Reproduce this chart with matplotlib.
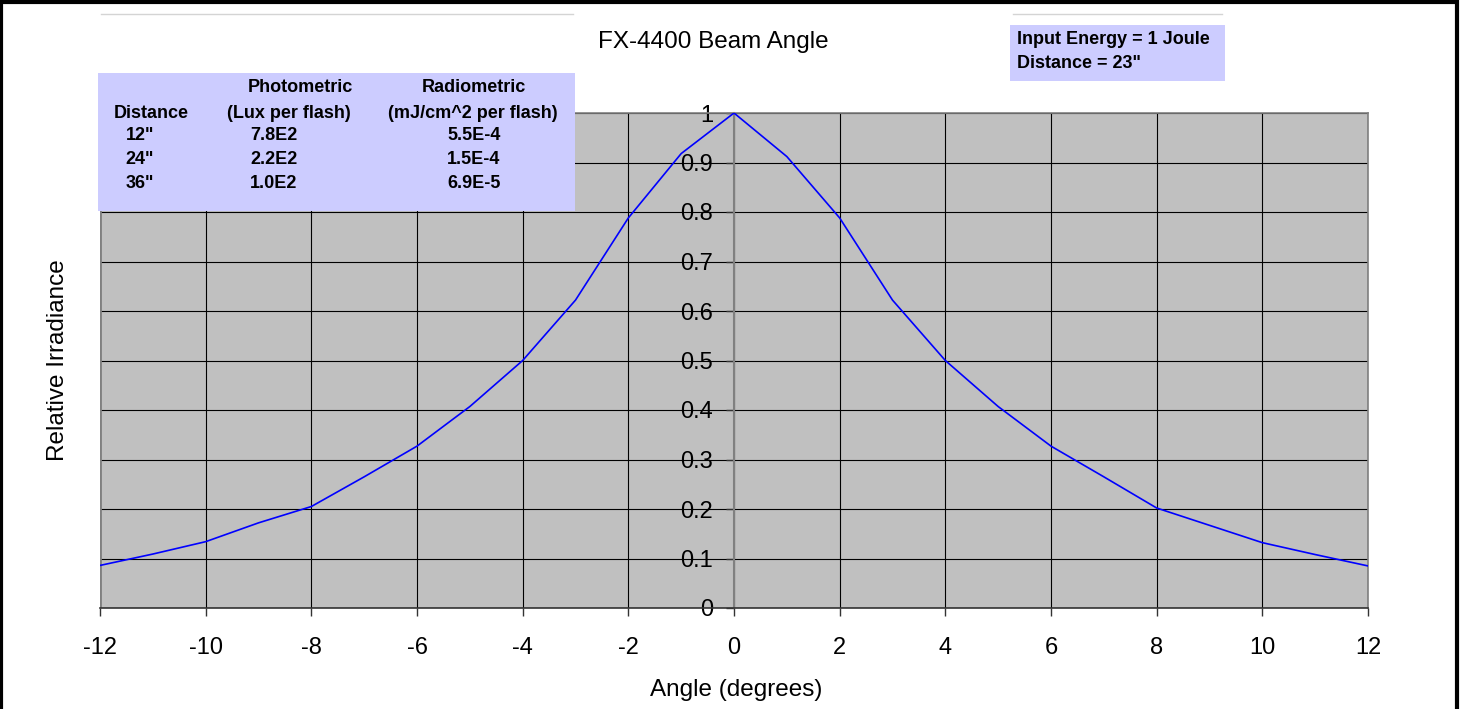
import matplotlib
matplotlib.use("Agg")
import matplotlib.pyplot as plt
from matplotlib.patches import Rectangle
from matplotlib.lines import Line2D

plt.rcParams["font.family"] = ["Liberation Sans", "DejaVu Sans"]

# beam profile
angles = [-12, -11, -10, -9, -8, -7, -6, -5, -4, -3, -2, -1, 0,
          1, 2, 3, 4, 5, 6, 7, 8, 9, 10, 11, 12]
irradiance = [0.086, 0.109, 0.134, 0.172, 0.205, 0.265, 0.327, 0.407, 0.500,
              0.622, 0.788, 0.918, 1.0, 0.912, 0.788, 0.622, 0.500, 0.407,
              0.327, 0.265, 0.202, 0.167, 0.132, 0.108, 0.085]

x_ticks = [-12, -10, -8, -6, -4, -2, 0, 2, 4, 6, 8, 10, 12]
y_ticks = [0, 0.1, 0.2, 0.3, 0.4, 0.5, 0.6, 0.7, 0.8, 0.9, 1]
y_tick_labels = ["0", "0.1", "0.2", "0.3", "0.4", "0.5", "0.6", "0.7", "0.8", "0.9", "1"]

# table in the upper left box
distances = ['12"', '24"', '36"']
photometric = ["7.8E2", "2.2E2", "1.0E2"]
radiometric = ["5.5E-4", "1.5E-4", "6.9E-5"]

notes = ["Input Energy = 1 Joule", 'Distance = 23"']

W, H = 1465, 709


def fx(x):
    return x / W


def fy(y):
    return 1 - y / H


fig = plt.figure(figsize=(W / 100, H / 100), dpi=100)
fig.patch.set_facecolor("white")

ax = fig.add_axes([fx(100), fy(608), fx(1368) - fx(100), fy(113) - fy(608)])
ax.set_facecolor("#C0C0C0")

ax.plot(angles, irradiance, color="#0000FF", lw=1.2, zorder=3)

ax.set_xlim(-12, 12)
ax.set_ylim(0, 1)
ax.set_xticks(x_ticks)
ax.set_xticklabels([str(t) for t in x_ticks])
ax.set_yticks(y_ticks)
ax.set_yticklabels(y_tick_labels)

ax.grid(True, color="black", lw=0.8)
ax.set_axisbelow(True)

ax.spines["left"].set_position(("data", 0))
ax.spines["left"].set_color("#808080")
ax.spines["left"].set_linewidth(1.5)
ax.spines["left"].set_zorder(2.5)
for s in ["right", "top"]:
    ax.spines[s].set_color("#808080")
    ax.spines[s].set_linewidth(1.2)
ax.spines["bottom"].set_color("#333333")
ax.spines["bottom"].set_linewidth(1.2)
ax.axvline(-12, color="#808080", lw=2.0, zorder=2.5)

ax.tick_params(axis="x", direction="out", length=6, width=1, pad=15,
               labelsize=17, color="#333333")
ax.tick_params(axis="y", direction="out", length=6, width=1, pad=9,
               labelsize=17, color="#333333")

fig.text(fx(713), fy(42), "FX-4400 Beam Angle", fontsize=17.5,
         ha="center", va="center")
fig.text(fx(58), fy(360), "Relative Irradiance", fontsize=17.5,
         rotation=90, ha="center", va="center")
fig.text(fx(736), fy(690), "Angle (degrees)", fontsize=17.5,
         ha="center", va="center")

# lavender info boxes
table_box = Rectangle((fx(98), fy(211)), fx(575) - fx(98), fy(73) - fy(211),
                      transform=fig.transFigure, facecolor="#CCCCFF",
                      edgecolor="none", zorder=3)
fig.add_artist(table_box)
note_box = Rectangle((fx(1010), fy(81)), fx(1225) - fx(1010), fy(25) - fy(81),
                     transform=fig.transFigure, facecolor="#CCCCFF",
                     edgecolor="none", zorder=3)
fig.add_artist(note_box)

# faint lines above the boxes
fig.add_artist(Line2D([fx(101), fx(573)], [fy(14), fy(14)],
                      transform=fig.transFigure, color="#D4D4D4", lw=1, zorder=3))
fig.add_artist(Line2D([fx(1013), fx(1222)], [fy(14), fy(14)],
                      transform=fig.transFigure, color="#D4D4D4", lw=1, zorder=3))

tk = dict(fontsize=13, fontweight="bold", va="center", zorder=4)
fig.text(fx(300), fy(88), "Photometric", ha="center", **tk)
fig.text(fx(474), fy(88), "Radiometric", ha="center", **tk)
fig.text(fx(151), fy(113), "Distance", ha="center", **tk)
fig.text(fx(289), fy(113), "(Lux per flash)", ha="center", **tk)
fig.text(fx(473), fy(113), "(mJ/cm^2 per flash)", ha="center", **tk)
for i, (d, p, r) in enumerate(zip(distances, photometric, radiometric)):
    y = 136 + i * 23.5
    fig.text(fx(140), fy(y), d, ha="center", **tk)
    fig.text(fx(274), fy(y), p, ha="center", **tk)
    fig.text(fx(474), fy(y), r, ha="center", **tk)

for i, line in enumerate(notes):
    fig.text(fx(1017), fy(40 + i * 23), line, ha="left", **tk)

# outer frame
fig.add_artist(Rectangle((fx(1), fy(712)), fx(1457) - fx(1), fy(2) - fy(712),
                         transform=fig.transFigure, facecolor="none",
                         edgecolor="black", lw=3, zorder=5, clip_on=False))

fig.savefig("out.png", dpi=100)
